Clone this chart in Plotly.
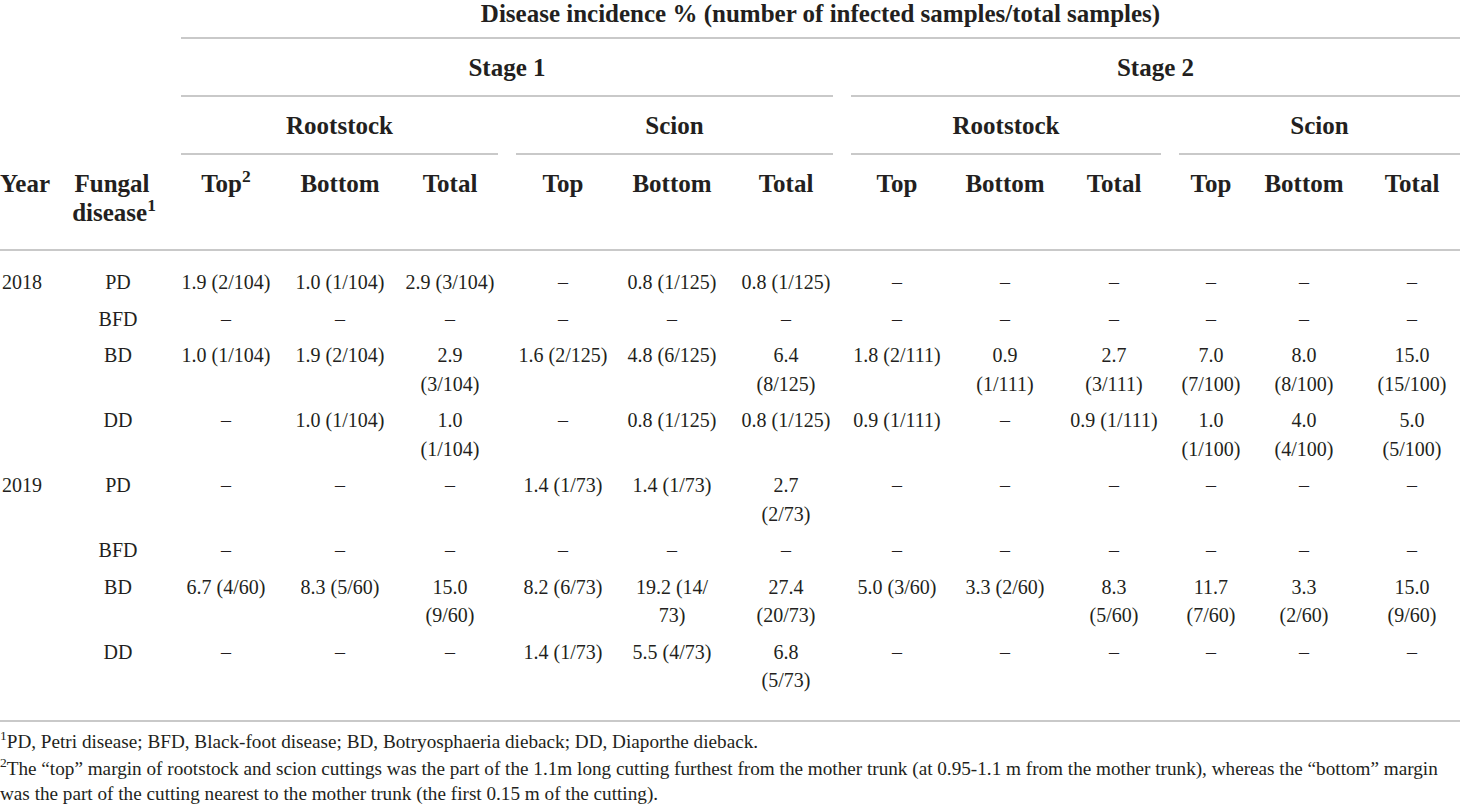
import plotly.graph_objects as go

# ---- table content -------------------------------------------------------
title = "Disease incidence % (number of infected samples/total samples)"
stages = ["Stage 1", "Stage 2"]
parts = ["Rootstock", "Scion"]
positions = ["Top", "Bottom", "Total"]

years = ["2018", "", "", "", "2019", "", "", ""]
diseases = ["PD", "BFD", "BD", "DD", "PD", "BFD", "BD", "DD"]

# one list per data column, "\n" = where the printed table wrapped the cell
s1_root_top = ["1.9 (2/104)", "–", "1.0 (1/104)", "–", "–", "–", "6.7 (4/60)", "–"]
s1_root_bottom = ["1.0 (1/104)", "–", "1.9 (2/104)", "1.0 (1/104)", "–", "–", "8.3 (5/60)", "–"]
s1_root_total = ["2.9 (3/104)", "–", "2.9\n(3/104)", "1.0\n(1/104)", "–", "–", "15.0\n(9/60)", "–"]
s1_scion_top = ["–", "–", "1.6 (2/125)", "–", "1.4 (1/73)", "–", "8.2 (6/73)", "1.4 (1/73)"]
s1_scion_bottom = ["0.8 (1/125)", "–", "4.8 (6/125)", "0.8 (1/125)", "1.4 (1/73)", "–", "19.2 (14/\n73)", "5.5 (4/73)"]
s1_scion_total = ["0.8 (1/125)", "–", "6.4\n(8/125)", "0.8 (1/125)", "2.7\n(2/73)", "–", "27.4\n(20/73)", "6.8\n(5/73)"]
s2_root_top = ["–", "–", "1.8 (2/111)", "0.9 (1/111)", "–", "–", "5.0 (3/60)", "–"]
s2_root_bottom = ["–", "–", "0.9\n(1/111)", "–", "–", "–", "3.3 (2/60)", "–"]
s2_root_total = ["–", "–", "2.7\n(3/111)", "0.9 (1/111)", "–", "–", "8.3\n(5/60)", "–"]
s2_scion_top = ["–", "–", "7.0\n(7/100)", "1.0\n(1/100)", "–", "–", "11.7\n(7/60)", "–"]
s2_scion_bottom = ["–", "–", "8.0\n(8/100)", "4.0\n(4/100)", "–", "–", "3.3\n(2/60)", "–"]
s2_scion_total = ["–", "–", "15.0\n(15/100)", "5.0\n(5/100)", "–", "–", "15.0\n(9/60)", "–"]

footnotes = [
    "<sup>1</sup>PD, Petri disease; BFD, Black-foot disease; BD, Botryosphaeria dieback; DD, Diaporthe dieback.",
    "<sup>2</sup>The “top” margin of rootstock and scion cuttings was the part of the 1.1m long cutting furthest "
    "from the mother trunk (at 0.95-1.1 m from the mother trunk), whereas the “bottom” margin",
    "was the part of the cutting nearest to the mother trunk (the first 0.15 m of the cutting).",
]

columns = [s1_root_top, s1_root_bottom, s1_root_total, s1_scion_top, s1_scion_bottom, s1_scion_total,
           s2_root_top, s2_root_bottom, s2_root_total, s2_scion_top, s2_scion_bottom, s2_scion_total]

# ---- layout (pixel space of the 1460x806 page) ---------------------------
W, H = 1460, 806
FONT = "Liberation Serif"
INK = "#231f20"
RULE = "#c9c9c9"
col_x = [226, 340, 450, 563, 672, 786, 897, 1005, 1114, 1211, 1304, 1412]
year_x, disease_x = 2, 118
part_spans = [(181, 498), (516, 833), (851, 1161), (1179, 1460)]
stage_spans = [(181, 833), (851, 1460)]
title_span = (181, 1460)
row_top, row_pitch, line_gap = 284, 36.5, 28.5

# header texts
hx, hy, ht = [], [], []
hx.append(sum(title_span) / 2); hy.append(16); ht.append(title)
for (a, b), s in zip(stage_spans, stages):
    hx.append((a + b) / 2); hy.append(70); ht.append(s)
for i, (a, b) in enumerate(part_spans):
    hx.append((a + b) / 2); hy.append(128); ht.append(parts[i % 2])
for i, x in enumerate(col_x):
    lab = positions[i % 3]
    if i == 0:
        lab += "<sup>2</sup>"
    hx.append(x); hy.append(186); ht.append(lab)
hx += [112, 114]; hy += [186, 215]; ht += ["Fungal", "disease<sup>1</sup>"]

# body texts, rows grow with the number of wrapped lines
bx, by, bt = [], [], []
lx, ly, lt = [], [], []
y = row_top
for r in range(len(diseases)):
    if years[r]:
        lx.append(year_x); ly.append(y); lt.append(years[r])
    bx.append(disease_x); by.append(y); bt.append(diseases[r])
    n = 1
    for c, col in enumerate(columns):
        lines = col[r].split("\n")
        n = max(n, len(lines))
        for k, line in enumerate(lines):
            bx.append(col_x[c]); by.append(y + k * line_gap); bt.append(line)
    y += row_pitch + line_gap * (n - 1)

fy = [743, 770, 795]
fig = go.Figure()
fig.add_trace(go.Scatter(x=hx, y=hy, text=["<b>%s</b>" % t for t in ht], mode="text",
                         textposition="middle center", textfont=dict(family=FONT, size=25, color=INK)))
fig.add_trace(go.Scatter(x=[0], y=[186], text=["<b>Year</b>"], mode="text",
                         textposition="middle right", textfont=dict(family=FONT, size=25, color=INK)))
fig.add_trace(go.Scatter(x=bx, y=by, text=bt, mode="text",
                         textposition="middle center", textfont=dict(family=FONT, size=20, color=INK)))
fig.add_trace(go.Scatter(x=lx, y=ly, text=lt, mode="text",
                         textposition="middle right", textfont=dict(family=FONT, size=20, color=INK)))
fig.add_trace(go.Scatter(x=[0] * len(footnotes), y=fy, text=footnotes, mode="text",
                         textposition="middle right", textfont=dict(family=FONT, size=19.2, color=INK)))

rules = [(title_span, 38)] + [(s, 96) for s in stage_spans] + [(s, 154) for s in part_spans] \
        + [((0, W), 250), ((0, W), 721)]
for (a, b), yy in rules:
    fig.add_shape(type="line", xref="x", yref="y", x0=a, x1=b, y0=yy, y1=yy,
                  line=dict(color=RULE, width=2))

fig.update_layout(
    width=W, height=H, margin=dict(l=0, r=0, t=0, b=0),
    paper_bgcolor="white", plot_bgcolor="white", showlegend=False, hovermode=False,
    xaxis=dict(range=[0, W], visible=False, fixedrange=True),
    yaxis=dict(range=[H, 0], visible=False, fixedrange=True),
)
fig.write_html("out.html", config={"displayModeBar": False, "staticPlot": True},
               post_script="document.body.style.margin='0';")
